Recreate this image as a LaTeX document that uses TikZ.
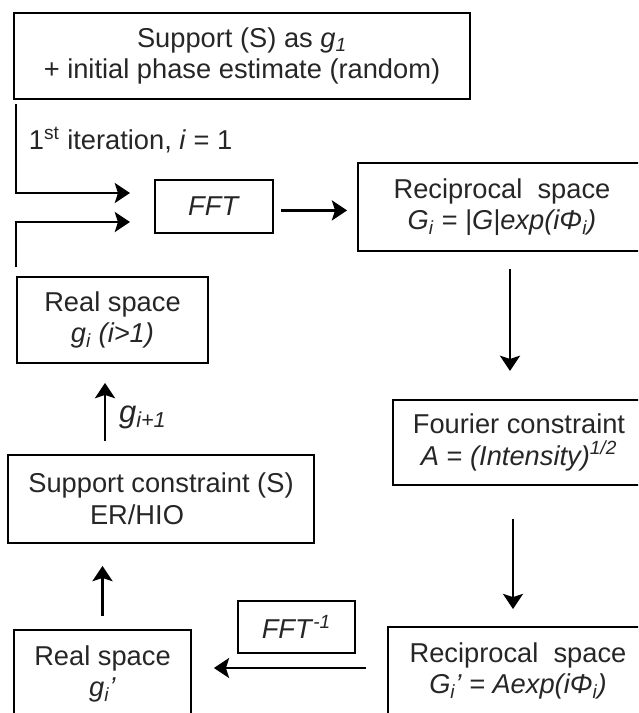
\documentclass[tikz,border=0pt]{standalone}
\usepackage{fontspec}
\setmainfont{Liberation Sans}
\usetikzlibrary{arrows.meta}

\newcommand{\isub}[1]{\textsubscript{\textit{#1}}}
\newcommand{\isup}[1]{\textsuperscript{\textit{#1}}}

\begin{document}
\begin{tikzpicture}[box/.style={draw, line width=1.3pt, inner sep=0pt, align=center},
        flow/.style={line width=2pt, -{Stealth[length=0.38cm, width=0.5cm, inset=0.08cm]}},
        every node/.style={font=\fontsize{19.4}{22.5}\selectfont, text=black!85}]
        \path[use as bounding box, clip] (0,0) rectangle (15.95,-17.825);

        \node[box, minimum width=11.4cm, minimum height=2.15cm] (start) at (6.05,-1.4) {Support (S) as \textit{g}\isub{1}\\+ initial phase estimate (random)};
        \node[box, minimum width=2.95cm, minimum height=1.33cm] (fft) at (5.35,-5.16) {\textit{FFT}};
        \node[box, minimum width=7.2cm, minimum height=2.2cm] (recip) at (12.55,-5.175) {Reciprocal\ \ space\\\textit{G\isub{i} = |G|exp(iΦ\isub{i})}};
        \node[box, minimum width=6.3cm, minimum height=2.125cm] (fourier) at (12.975,-11.06) {Fourier constraint\\\textit{A} = \textit{(Intensity)}\isup{1/2}};
        \node[box, minimum width=6.5cm, minimum height=2.2cm] (recipb) at (12.95,-16.775) {Reciprocal\ \ space\\\textit{G\isub{i}’ = Aexp(iΦ\isub{i})}};
        \node[box, minimum width=2.925cm, minimum height=1.3cm] (ifft) at (7.41,-15.675) {\textit{FFT}\isup{-1}};
        \node[box, minimum width=4.425cm, minimum height=2.2cm] (reala) at (2.5625,-16.85) {Real space\\\textit{g\isub{i}’}};
        \node[box, minimum width=7.65cm, minimum height=2.2cm] (support) at (4.025,-12.475) {Support constraint (S)\\ER/HIO\hspace*{1.2cm}};
        \node[box, minimum width=4.775cm, minimum height=2.15cm] (realb) at (2.8125,-8.0) {Real space\\\textit{g\isub{i} (i>1)}};

        \coordinate (in1) at (3.25,-4.825);
        \coordinate (in2) at (3.25,-5.55);

        \draw[flow] ([xshift=0.075cm, yshift=-0.1cm]start.south west) |- (in1);
        \node[anchor=west] (first) at (0.6,-3.5) {1\textsuperscript{st} iteration, \textit{i} = 1};
        \draw[flow] ([yshift=0.225cm]realb.north west) |- (in2);

        \draw[flow, shorten <=0.175cm, shorten >=0.25cm] ([yshift=-0.1cm]fft.east) -- ([yshift=-0.1cm]fft.east -| recip.west);
        \draw[flow, shorten <=0.425cm, shorten >=0.7cm] ([xshift=0.2cm]recip.south) -- ([xshift=0.2cm]recip.south |- fourier.north);
        \draw[flow, shorten <=0.825cm, shorten >=0.425cm] ([xshift=-0.15cm]fourier.south) -- ([xshift=-0.15cm]fourier.south |- recipb.north);
        \draw[flow, shorten <=0.525cm, shorten >=0.55cm] ([yshift=0.075cm]recipb.west) -- ([yshift=0.075cm]recipb.west -| reala.east);
        \draw[flow, shorten <=0.325cm, shorten >=0.55cm] (reala.north) -- (reala.north |- support.south);
        \draw[flow, shorten <=0.325cm, shorten >=0.475cm] ([xshift=-0.1875cm]realb.south |- support.north) -- node[right, xshift=0.2cm, yshift=-0.2cm, font=\fontsize{22}{24}\selectfont] {\textit{g\isub{i+1}}} ([xshift=-0.1875cm]realb.south);
      \end{tikzpicture}
\end{document}
